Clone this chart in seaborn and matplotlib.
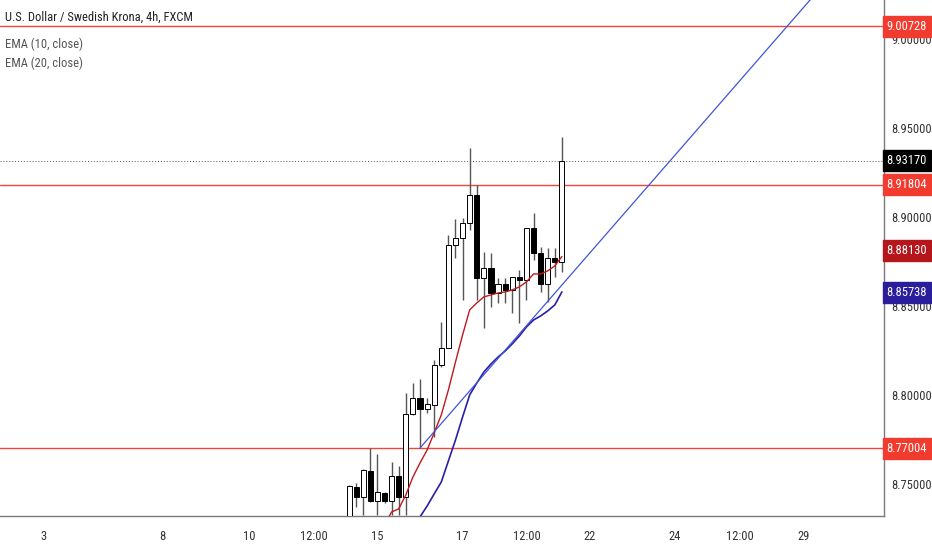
import pandas as pd
import matplotlib
matplotlib.use("Agg")
import matplotlib.pyplot as plt
import seaborn as sns

# candle data (4h bars), index 0 = first visible bar
opens = [8.7150, 8.7483, 8.7427, 8.7573, 8.7404, 8.7452, 8.7404, 8.7545, 8.7427, 8.7893,
         8.7983, 8.7921, 8.7945, 8.8169, 8.8264, 8.8843, 8.8882, 8.8966, 8.9124, 8.8657,
         8.8713, 8.8573, 8.8624, 8.8590, 8.8663, 8.8646, 8.8938, 8.8798, 8.8624, 8.8770,
         8.8747]
highs = [8.7495, 8.7506, 8.7584, 8.7702, 8.7669, 8.7455, 8.7624, 8.7601, 8.8011, 8.8067,
         8.8090, 8.7983, 8.8197, 8.8410, 8.8899, 8.8989, 8.8994, 8.9388, 8.9180, 8.8803,
         8.8798, 8.8657, 8.8657, 8.8665, 8.8702, 8.8940, 8.9022, 8.8831, 8.8826, 8.8826,
         8.9449]
lows = [8.7100, 8.7371, 8.7326, 8.7400, 8.7326, 8.7393, 8.7326, 8.7326, 8.7326, 8.7890,
        8.7702, 8.7899, 8.7764, 8.8157, 8.8262, 8.8770, 8.8534, 8.8927, 8.8534, 8.8376,
        8.8494, 8.8517, 8.8517, 8.8461, 8.8404, 8.8534, 8.8758, 8.8579, 8.8522, 8.8663,
        8.8691]
closes = [8.7489, 8.7427, 8.7579, 8.7404, 8.7455, 8.7404, 8.7545, 8.7427, 8.7893, 8.7983,
          8.7921, 8.7949, 8.8169, 8.8264, 8.8843, 8.8882, 8.8966, 8.9124, 8.8657, 8.8713,
          8.8573, 8.8624, 8.8590, 8.8663, 8.8646, 8.8938, 8.8798, 8.8624, 8.8770, 8.8747,
          8.9317]

# EMA lines
ema10_x = list(range(4, 31))
ema10_y = [8.7220, 8.7270, 8.7343, 8.7360, 8.7438, 8.7539, 8.7618, 8.7691, 8.7787, 8.7888,
           8.8028, 8.8185, 8.8337, 8.8478, 8.8517, 8.8551, 8.8562, 8.8573, 8.8579, 8.8590,
           8.8607, 8.8635, 8.8680, 8.8680, 8.8697, 8.8725, 8.8778]
ema20_x = list(range(9, 31))
ema20_y = [8.7240, 8.7315, 8.7376, 8.7444, 8.7511, 8.7629, 8.7747, 8.7876, 8.8000, 8.8067,
           8.8129, 8.8174, 8.8213, 8.8247, 8.8287, 8.8331, 8.8382, 8.8421, 8.8444, 8.8472,
           8.8506, 8.8579]

# trend line anchors
trend_x = [10, 70]
trend_y = [8.7702, 9.0449]

# horizontal levels
levels = [9.00728, 8.91804, 8.77004]
last_price = 8.93170

# price tags on the right scale
tag_values = [9.00728, 8.93170, 8.91804, 8.88130, 8.85738, 8.77004]
tag_colors = ["#f23b2f", "#000000", "#f23b2f", "#b5161b", "#2a1e9c", "#f23b2f"]

# x axis labels
xtick_pos = [-43.1, -26.3, -14.1, -4.9, 4.0, 15.9, 25.0, 33.9, 45.9, 55.1, 64.1]
xtick_labels = ["3", "8", "10", "12:00", "15", "17", "12:00", "22", "24", "12:00", "29"]
ytick_vals = [8.75, 8.80, 8.85, 8.90, 8.95, 9.00]

sns.set_theme(style="white")
plt.rcParams["font.family"] = ["Roboto Condensed", "DejaVu Sans"]

fig = plt.figure(figsize=(9.32, 5.5), dpi=100)
ax = fig.add_axes([0, 34 / 550, 884 / 932, 516 / 550])

df = pd.DataFrame({"o": opens, "h": highs, "l": lows, "c": closes})
df["x"] = range(len(df))
df["up"] = df["c"] >= df["o"]

# wicks then bodies
ax.vlines(df["x"], df["l"], df["h"], color="#555555", lw=1.0, zorder=3)
body_colors = ["white" if u else "black" for u in df["up"]]
ax.bar(df["x"], df["c"] - df["o"], bottom=df["o"], width=0.72,
       color=body_colors, edgecolor="black", linewidth=0.7, zorder=4)

# EMAs
sns.lineplot(x=ema10_x, y=ema10_y, ax=ax, color="#c0181d", lw=1.0, zorder=5)
sns.lineplot(x=ema20_x, y=ema20_y, ax=ax, color="#2a1ea8", lw=1.2, zorder=5)

# trend line
ax.plot(trend_x, trend_y, color="#3f55d8", lw=0.9, zorder=5)

for lv in levels:
    ax.axhline(lv, color="#f0473d", lw=1.0, zorder=2)
ax.axhline(last_price, color="#555555", lw=0.7, ls=(0, (1, 2)), zorder=2)

ax.set_xlim(-49.2, 75.4)
ax.set_ylim(8.7320, 9.0219)

ax.yaxis.tick_right()
ax.set_yticks(ytick_vals)
ax.set_yticklabels([f"{v:.5f}" for v in ytick_vals])
ax.set_xticks(xtick_pos)
ax.set_xticklabels(xtick_labels)
ax.tick_params(axis="both", length=0, labelsize=9, colors="#333333")
ax.tick_params(axis="y", pad=5)
ax.tick_params(axis="x", pad=10)

for s in ["top", "left"]:
    ax.spines[s].set_visible(False)
for s in ["right", "bottom"]:
    ax.spines[s].set_color("#7a7a7a")
    ax.spines[s].set_linewidth(1.0)

trans = ax.get_yaxis_transform()
for v, col in zip(tag_values, tag_colors):
    ax.text(1.003, v, f"{v:.5f}", transform=trans, ha="left", va="center",
            fontsize=9, color="white", zorder=10, clip_on=False,
            bbox=dict(boxstyle="square,pad=0.32", fc=col, ec=col))

# legend texts at top-left
fig.text(5 / 932, 1 - 17 / 550, "U.S. Dollar / Swedish Krona, 4h, FXCM",
         fontsize=9, color="#222222", va="center", ha="left")
fig.text(5 / 932, 1 - 44 / 550, "EMA (10, close)", fontsize=9,
         color="#555555", va="center", ha="left")
fig.text(5 / 932, 1 - 63 / 550, "EMA (20, close)", fontsize=9,
         color="#555555", va="center", ha="left")

fig.savefig("out.png", dpi=100)
